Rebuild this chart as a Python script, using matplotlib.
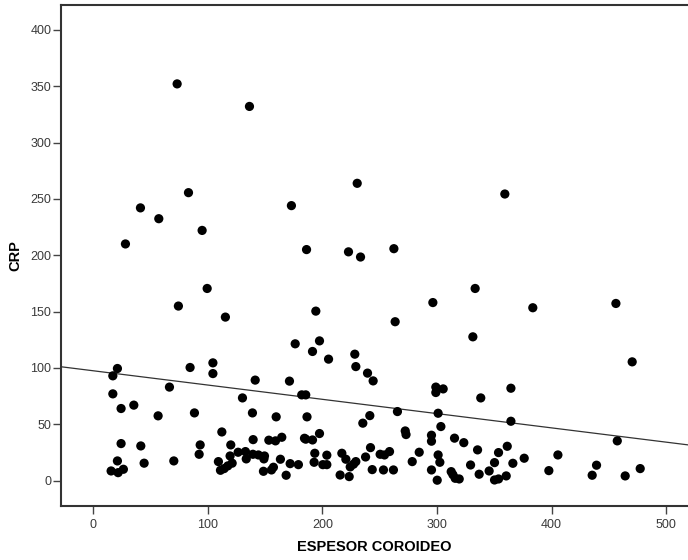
import matplotlib.pyplot as plt
import numpy as np

plt.rcParams['font.family'] = ['Liberation Sans', 'DejaVu Sans']

# choroidal thickness (x) vs CRP (y)
espesor = [
    73.3, 136.4, 83.2, 41.3, 57.3, 95.1, 28.2, 173.0, 186.2, 222.8,
    230.4, 359.2, 233.3, 262.4,
    333.3, 296.4, 383.6, 456.1, 263.5, 331.3, 470.3, 228.3, 229.2, 239.4,
    244.3, 299.0, 299.0, 305.4, 364.5, 338.2, 265.5, 301.0, 364.5, 241.4,
    235.3, 303.4, 272.3, 273.0, 295.2, 295.2, 315.3, 323.4, 361.3, 457.3,
    335.4, 353.7, 284.5, 301.0, 405.5, 376.1, 242.0, 237.7, 250.4, 254.2,
    258.6, 217.0, 220.5, 229.2, 227.2, 224.3, 215.5, 223.4, 278.4, 302.5,
    350.2, 366.2, 329.3, 439.2, 477.3, 243.5, 253.3, 262.0, 295.2, 345.5,
    397.6, 312.4, 313.9, 336.8, 360.4, 435.4, 464.2, 300.2, 315.9, 319.4,
    350.2, 353.7,
    99.5, 74.4, 115.4, 194.3, 197.5, 176.3, 191.4, 205.4, 104.5, 104.5,
    84.6, 21.2, 17.2, 17.2, 66.6, 141.4, 171.3, 130.3, 182.0, 185.5,
    24.4, 35.5, 56.7, 88.4, 139.0, 159.7, 186.6, 112.3, 197.5, 164.6,
    159.1, 153.3, 139.6, 184.4, 185.5, 191.4, 24.4, 41.6, 93.4, 120.1,
    92.5, 126.5, 132.9, 133.6, 119.5, 139.4, 144.2, 149.5, 149.0, 193.4,
    203.9, 21.2, 44.5, 70.4, 109.3, 121.3, 117.5, 114.3, 111.1, 163.4,
    157.3, 155.6, 148.6, 192.8, 171.9, 179.1, 200.4, 203.9, 168.4, 15.7,
    21.8, 26.4,
]
crp = [
    352.0, 332.0, 255.5, 242.0, 232.4, 222.0, 210.0, 244.0, 205.0, 203.0,
    263.8, 254.3, 198.4, 205.8,
    170.5, 158.0, 153.4, 157.2, 141.0, 127.6, 105.4, 112.2, 101.2, 95.4,
    88.5, 83.0, 78.2, 81.4, 82.0, 73.4, 61.3, 59.8, 52.7, 57.7,
    51.0, 48.0, 44.1, 40.9, 40.3, 35.0, 37.7, 33.7, 30.5, 35.3,
    27.3, 24.9, 25.2, 22.8, 22.8, 19.9, 29.3, 21.0, 23.4, 22.8,
    25.8, 24.3, 19.0, 16.9, 14.6, 12.2, 5.0, 3.6, 16.9, 16.3,
    16.0, 15.4, 13.9, 13.7, 10.7, 9.8, 9.5, 9.5, 9.5, 8.6,
    8.9, 8.0, 5.3, 5.7, 4.2, 4.8, 4.2, 0.4, 2.1, 1.5,
    0.6, 1.5,
    170.5, 154.9, 145.1, 150.4, 124.0, 121.4, 114.6, 107.8, 104.5, 95.0,
    100.4, 99.5, 93.0, 77.0, 83.0, 89.2, 88.3, 73.4, 76.1, 76.1,
    64.0, 67.0, 57.5, 60.1, 60.1, 56.6, 56.6, 43.2, 41.8, 38.5,
    35.3, 35.9, 36.4, 37.6, 36.8, 36.1, 32.9, 30.8, 31.7, 31.7,
    23.4, 25.2, 25.8, 19.3, 21.9, 23.4, 22.8, 21.9, 19.3, 24.3,
    22.6, 17.5, 15.5, 17.5, 16.9, 15.5, 13.1, 10.7, 9.2, 19.0,
    11.9, 9.5, 8.3, 16.3, 15.1, 14.2, 14.2, 14.2, 4.8, 8.6,
    7.1, 10.1,
]

# fit line (linear regression)
intercepto = 97.5
pendiente = -0.1267

x_ticks = [0, 100, 200, 300, 400, 500]
y_ticks = [0, 50, 100, 150, 200, 250, 300, 350, 400]

fig = plt.figure(figsize=(6.88, 5.6), dpi=100)
ax = fig.add_axes([0.0887, 0.0964, 0.9113, 0.8947])

ax.scatter(espesor, crp, s=44, color='black', edgecolors='none', zorder=3)

xlim = (-28, 519)
xs = np.array(xlim)
ax.plot(xs, intercepto + pendiente * xs, color='#333333', linewidth=0.9, zorder=2)

ax.set_xlim(*xlim)
ax.set_ylim(-22.5, 422)
ax.set_xticks(x_ticks)
ax.set_yticks(y_ticks)

ax.tick_params(axis='both', direction='out', length=5.5, width=1, color='#444444',
               labelsize=9, labelcolor='#3a3a3a')
ax.tick_params(axis='y', pad=1.5)
ax.tick_params(axis='x', pad=4)
ax.tick_params(top=False, right=False)
for sp in ax.spines.values():
    sp.set_color('#333333')
    sp.set_linewidth(1.5)
ax.spines['right'].set_visible(False)

ax.set_xlabel('ESPESOR COROIDEO', fontsize=10.5, fontweight='bold', labelpad=6)
ax.set_ylabel('CRP', fontsize=10.5, fontweight='bold', labelpad=6)

fig.savefig('out.png', dpi=100)
